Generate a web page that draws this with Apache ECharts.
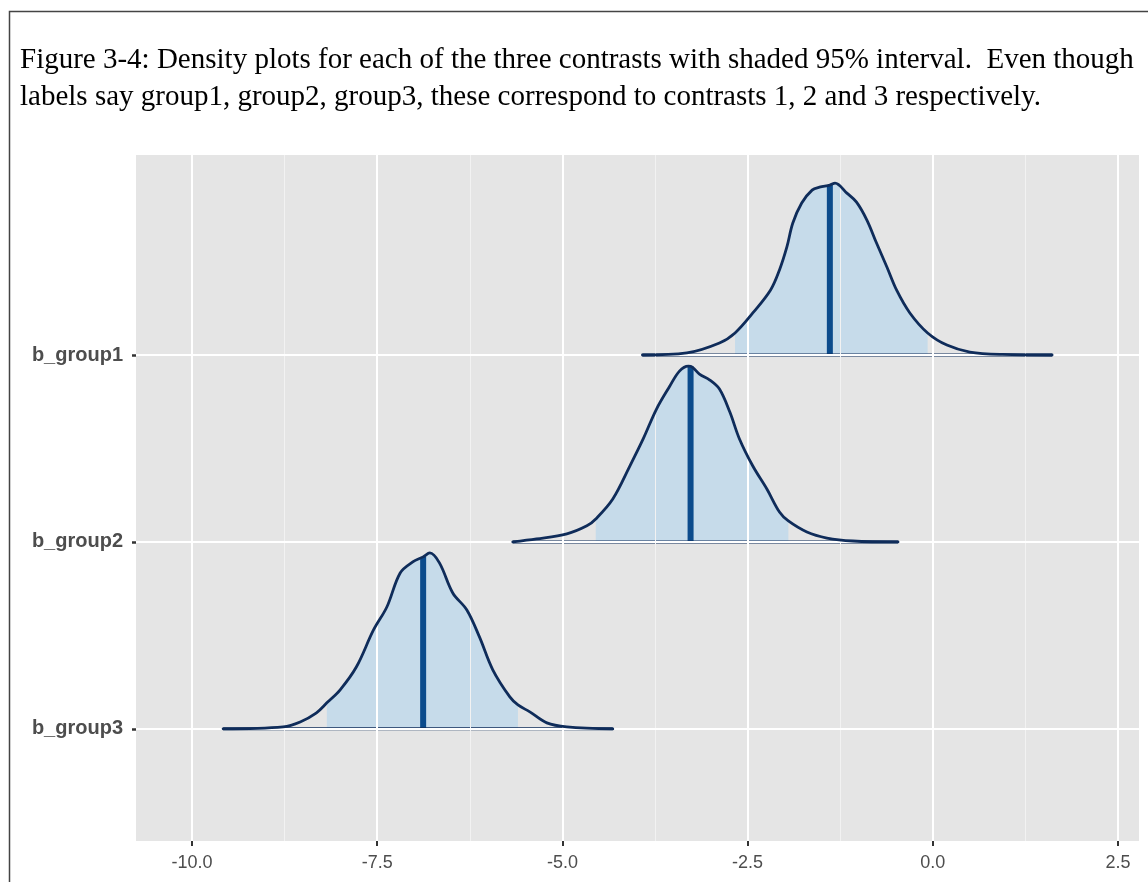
<!DOCTYPE html>
<html><head><meta charset="utf-8">
<script src="https://cdn.jsdelivr.net/npm/echarts@6/dist/echarts.min.js"></script>
<style>html,body{margin:0;padding:0;background:#fff}#chart{width:1148px;height:882px}</style>
</head><body><div id="chart"></div>
<script>
// ---- text ----
const captionLines = [
  'Figure 3-4: Density plots for each of the three contrasts with shaded 95% interval.  Even though',
  'labels say group1, group2, group3, these correspond to contrasts 1, 2 and 3 respectively.'
];
// ---- categories & positions on the y axis ----
const categories = ['b_group1', 'b_group2', 'b_group3'];
const categoryPos = [3, 2, 1];
// ---- tick labels ----
const xTicks = [-10, -7.5, -5, -2.5, 0, 2.5];
const xMinorTicks = [-8.75, -6.25, -3.75, -1.25, 1.25];

// ---- densities (x value, height in group-row units) ----
const g1x = [-3.92,-3.32,-2.88,-2.67,-2.43,-2.19,-2.07,-1.97,-1.89,-1.77,-1.63,-1.53,-1.39,-1.32,-1.16,-1.03,-0.89,-0.76,-0.62,-0.49,-0.31,-0.07,0.19,0.50,0.94,1.61];
const g1h = [0,0.011,0.064,0.118,0.225,0.348,0.455,0.578,0.706,0.813,0.882,0.898,0.909,0.920,0.866,0.818,0.722,0.599,0.471,0.348,0.225,0.118,0.053,0.016,0.003,0];
const g2x = [-5.67,-5.35,-4.94,-4.67,-4.55,-4.32,-4.09,-3.91,-3.73,-3.55,-3.42,-3.30,-3.27,-3.15,-3.01,-2.88,-2.74,-2.61,-2.43,-2.24,-2.07,-1.95,-1.70,-1.43,-1.08,-0.47];
const g2h = [0,0.016,0.043,0.086,0.123,0.230,0.406,0.551,0.711,0.834,0.914,0.941,0.940,0.898,0.866,0.818,0.695,0.551,0.406,0.283,0.160,0.112,0.053,0.021,0.005,0];
const g3x = [-9.58,-8.77,-8.54,-8.32,-8.18,-8.00,-7.78,-7.55,-7.37,-7.19,-7.02,-6.88,-6.79,-6.66,-6.48,-6.29,-6.12,-5.94,-5.71,-5.60,-5.44,-5.21,-4.94,-4.32];
const g3h = [0,0.011,0.037,0.086,0.139,0.209,0.332,0.529,0.652,0.834,0.893,0.920,0.941,0.888,0.727,0.636,0.492,0.316,0.171,0.128,0.091,0.032,0.011,0];
// 95% intervals, medians, median line heights
const intervalLo = [-2.67, -4.55, -8.18];
const intervalHi = [-0.07, -1.95, -5.60];
const medians = [-1.39, -3.27, -6.88];
const medianH = [0.909, 0.940, 0.920];

const densX = [g1x, g2x, g3x];
const densH = [g1h, g2h, g3h];

const OUTLINE = '#0f2c5a', FILL = '#c6dbea', MED = '#0b4b8c';
const series = [];
// gridlines (drawn through the axes' scales)
series.push({
  type: 'line', data: [], z: 1, silent: true,
  markLine: { silent: true, symbol: 'none', label: { show: false }, animation: false,
    lineStyle: { color: '#f2f2f2', width: 1, type: 'solid' },
    data: xMinorTicks.map(v => ({ xAxis: v })) }
});
series.push({
  type: 'line', data: [], z: 1, silent: true,
  markLine: { silent: true, symbol: 'none', label: { show: false }, animation: false,
    lineStyle: { color: '#ffffff', width: 2, type: 'solid' },
    data: xTicks.map(v => ({ xAxis: v })).concat(categoryPos.map(v => ({ yAxis: v }))) }
});
for (let i = 0; i < 3; i++) {
  const base = categoryPos[i];
  const xs = densX[i], hs = densH[i];
  const pts = xs.map((x, k) => [x, base + hs[k]]);
  const fillPts = pts.filter(p => p[0] >= intervalLo[i] - 1e-9 && p[0] <= intervalHi[i] + 1e-9);
  series.push({
    type: 'line', data: fillPts, smooth: 0.35, symbol: 'none', z: 2,
    lineStyle: { width: 0, opacity: 0 },
    areaStyle: { color: FILL, opacity: 1, origin: base }
  });
  series.push({
    type: 'line', data: [[medians[i], base], [medians[i], base + medianH[i]]], symbol: 'none', z: 3,
    lineStyle: { width: 6, color: MED }
  });
  series.push({
    type: 'line', data: [[xs[0], base], [xs[xs.length - 1], base]], symbol: 'none', z: 4,
    lineStyle: { width: 3, color: OUTLINE }
  });
  series.push({
    type: 'line', data: pts, smooth: 0.35, symbol: 'none', z: 5,
    lineStyle: { width: 2.8, color: OUTLINE, cap: 'round', join: 'round' }
  });
}

const chart = echarts.init(document.getElementById('chart'), null, { renderer: 'canvas' });
chart.setOption({
  animation: false,
  backgroundColor: '#ffffff',
  title: {
    text: captionLines.join('\n'), left: 20, top: 42, padding: 0,
    textStyle: { fontFamily: 'Liberation Serif', fontSize: 29, fontWeight: 'normal', color: '#000', lineHeight: 37 }
  },
  graphic: [{
    type: 'rect', silent: true, z: 100,
    shape: { x: 9.5, y: 11.5, width: 1300, height: 1000 },
    style: { fill: 'none', stroke: '#444444', lineWidth: 1.5 }
  }],
  grid: { left: 136, right: 9, top: 155, bottom: 41, show: true, backgroundColor: '#e5e5e5', borderWidth: 0 },
  xAxis: {
    type: 'value', min: -10.756, max: 2.783,
    axisLine: { show: false, onZero: false },
    splitLine: { show: false },
    axisTick: { show: true, customValues: xTicks, length: 5, lineStyle: { color: '#333333', width: 2 } },
    axisLabel: { customValues: xTicks, formatter: v => Number(v).toFixed(1), fontFamily: 'Liberation Sans',
      fontSize: 18, color: '#4d4d4d', margin: 13 }
  },
  yAxis: {
    type: 'value', min: 0.4, max: 4.07,
    axisLine: { show: false, onZero: false },
    splitLine: { show: false },
    axisTick: { show: true, customValues: categoryPos, length: 4, lineStyle: { color: '#333333', width: 2.5 } },
    axisLabel: { customValues: categoryPos, formatter: v => categories[categoryPos.indexOf(Number(v))],
      fontFamily: 'Liberation Sans', fontWeight: 'bold', fontSize: 20, color: '#4d4d4d', margin: 13 }
  },
  series: series
});
</script></body></html>
